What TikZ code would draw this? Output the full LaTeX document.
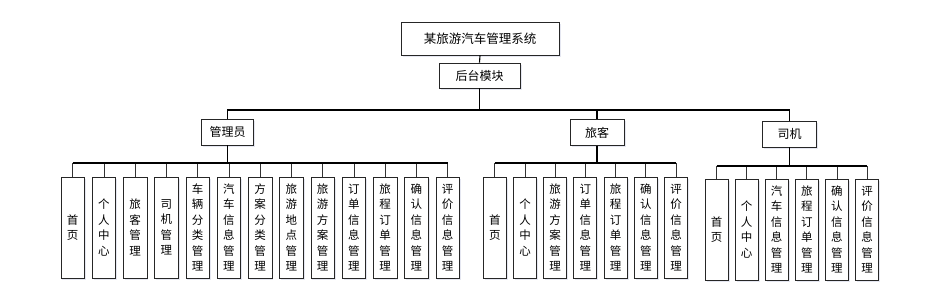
\documentclass[tikz,border=0pt]{standalone}
\usepackage{fontspec}
\setmainfont{Noto Sans CJK SC}
\usetikzlibrary{shadows}
\definecolor{shadowc}{RGB}{150,160,200}
\tikzset{
  box/.style={draw=black!85, line width=0.9pt, fill=white, inner sep=0pt,
    drop shadow={shadow xshift=1.5pt, shadow yshift=-1.5pt, opacity=0.25, fill=shadowc}},
  topbox/.style={box, minimum width=158pt, minimum height=33pt, font=\fontsize{12.5}{14}\selectfont},
  midbox/.style={box, minimum width=52pt, minimum height=26pt, font=\fontsize{12}{14}\selectfont},
  leaf/.style={box, minimum width=23.5pt, minimum height=101pt, align=center,
    font=\fontsize{11.5}{15.5}\selectfont},
  conn/.style={draw=black, line width=1.1pt},
  stub/.style={draw=black!80, line width=0.8pt}
}
\begin{document}
\begin{tikzpicture}[x=1pt,y=-1pt]
\useasboundingbox (0,0) rectangle (932,293);
\node[topbox] (sys) at (480,38.5) {某旅游汽车管理系统};
\node[box, minimum width=81pt, minimum height=25pt, font=\fontsize{12}{14}\selectfont] (mod) at (479.5,75.5) {后台模块};
\node[midbox] (mgr) at (227.5,132) {管理员};
\node[midbox, minimum width=54pt] (pas) at (597,132.5) {旅客};
\node[midbox, minimum width=54pt] (drv) at (789.5,134) {司机};
\coordinate (busT) at (0,110);
\coordinate (busA) at (0,163);
\coordinate (busB) at (0,163);
\coordinate (busC) at (0,166);
% admin leaves
\foreach \t [count=\i] in {首\\页, 个\\人\\中\\心, 旅\\客\\管\\理, 司\\机\\管\\理, 车\\辆\\分\\类\\管\\理, 汽\\车\\信\\息\\管\\理, 方\\案\\分\\类\\管\\理, 旅\\游\\地\\点\\管\\理, 旅\\游\\方\\案\\管\\理, 订\\单\\信\\息\\管\\理, 旅\\程\\订\\单\\管\\理, 确\\认\\信\\息\\管\\理, 评\\价\\信\\息\\管\\理}
  \node[leaf] (a\i) at ({72.7+31.25*(\i-1)},227.5) {\t};
% passenger leaves
\foreach \t [count=\i] in {首\\页, 个\\人\\中\\心, 旅\\游\\方\\案\\管\\理, 订\\单\\信\\息\\管\\理, 旅\\程\\订\\单\\管\\理, 确\\认\\信\\息\\管\\理, 评\\价\\信\\息\\管\\理}
  \node[leaf, minimum width=23pt] (b\i) at ({494.8+30.2*(\i-1)},227.5) {\t};
% driver leaves
\foreach \t [count=\i] in {首\\页, 个\\人\\中\\心, 汽\\车\\信\\息\\管\\理, 旅\\程\\订\\单\\管\\理, 确\\认\\信\\息\\管\\理, 评\\价\\信\\息\\管\\理}
  \node[leaf, minimum width=23pt] (c\i) at ({716.5+30.1*(\i-1)},229.5) {\t};
% top connectors
\draw[conn] (sys.south) -- (mod.north);
\draw[conn] (mod.south) -- (mod.south |- busT);
\draw[conn] (mgr.north) -- (mgr.north |- busT) -- (drv.north |- busT) -- (drv.north);
\draw[conn] (pas.north) -- (pas.north |- busT);
% admin bus
\draw[conn] (mgr.south) -- (mgr.south |- busA);
\foreach \i in {1,...,13} \draw[stub] (a\i.north) -- (a\i.north |- busA);
\draw[conn] (a1.north |- busA) -- (a13.north |- busA);
% passenger bus
\draw[conn] (pas.south) -- (pas.south |- busB);
\foreach \i in {1,...,7} \draw[stub] (b\i.north) -- (b\i.north |- busB);
\draw[conn] (b1.north |- busB) -- (b7.north |- busB);
% driver bus
\draw[conn] (drv.south) -- (drv.south |- busC);
\foreach \i in {1,...,6} \draw[stub] (c\i.north) -- (c\i.north |- busC);
\draw[conn] (c1.north |- busC) -- (c6.north |- busC);
\end{tikzpicture}
\end{document}
